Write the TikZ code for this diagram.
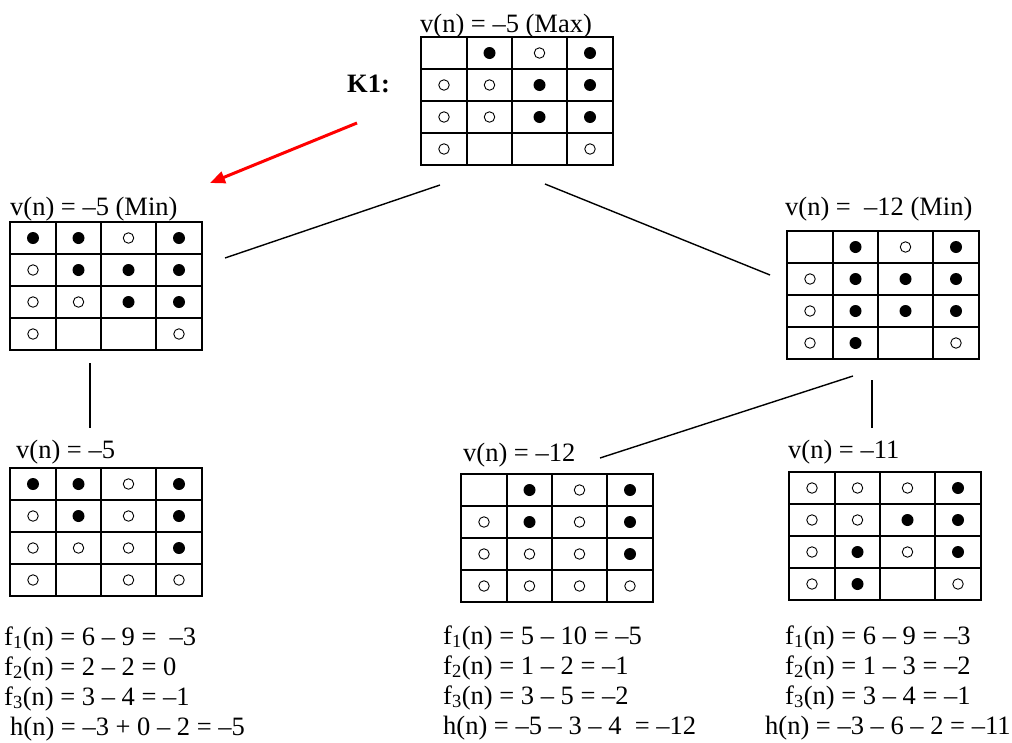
\documentclass[tikz,border=0pt]{standalone}
\usepackage{fontspec}
\setmainfont{Liberation Serif}
\usetikzlibrary{arrows.meta}
\tikzset{
 board/.style={draw, line width=2pt, minimum width=192pt, minimum height=128pt, inner sep=0pt, outer sep=0pt},
 gridline/.style={line width=2pt},
 cb/.style={circle, fill=black, minimum size=12pt, inner sep=0pt},
 cw/.style={circle, draw=black, line width=0.9pt, minimum size=10.5pt, inner sep=0pt},
 ce/.style={inner sep=0pt, minimum size=0pt},
 lbl/.style={font=\fontsize{26.5}{30}\selectfont, inner sep=0pt, anchor=base west},
 treeedge/.style={line width=1.4pt},
 redarrow/.style={draw=red, line width=3pt, -{Triangle[length=15pt,width=12pt]}}
}
\newcommand\boardat[3]{%
 \begin{scope}[shift={(#2)}]
  \node[board, anchor=north west] (#1) at (0,0) {};
  \foreach \xx in {46,91,146} \draw[gridline] (\xx,0) -- (\xx,128);
  \foreach \yy in {32,64,96} \draw[gridline] (0,\yy) -- (192,\yy);
  \foreach \c [count=\i from 0] in {#3} {
    \pgfmathtruncatemacro\col{mod(\i,4)}
    \pgfmathtruncatemacro\row{int(\i/4)}
    \pgfmathsetmacro\cx{{23,68.5,118.5,169}[\col]}
    \pgfmathsetmacro\cy{16+32*\row}
    \node[c\c] (#1-\i) at (\cx,\cy) {};
  }
 \end{scope}}
\begin{document}
\begin{tikzpicture}[x=1pt,y=-1pt]
\useasboundingbox (0,0) rectangle (1012,742);
% boards
\boardat{top}{421,37}{e,b,w,b, w,w,b,b, w,w,b,b, w,e,e,w}
\boardat{lmid}{10,222}{b,b,w,b, w,b,b,b, w,w,b,b, w,e,e,w}
\boardat{rmid}{787,231}{e,b,w,b, w,b,b,b, w,b,b,b, w,b,e,w}
\boardat{bl}{10,468}{b,b,w,b, w,b,w,b, w,w,w,b, w,e,w,w}
\boardat{bm}{461,474}{e,b,w,b, w,b,w,b, w,w,w,b, w,w,w,w}
\boardat{br}{789,472}{w,w,w,b, w,w,b,b, w,b,w,b, w,b,e,w}
% titles
\node[lbl] (ttop) at (420,32) {v(n) = –5 (Max)};
\node[lbl] (tlmid) at (10,215) {v(n) = –5 (Min)};
\node[lbl] (trmid) at (785,215) {v(n) =\ \ –12 (Min)};
\node[lbl] (tbl) at (16,458) {v(n) = –5};
\node[lbl] (tbm) at (463,461) {v(n) = –12};
\node[lbl] (tbr) at (788,458) {v(n) = –11};
\node[lbl, font=\fontsize{26.5}{30}\selectfont\bfseries] (k1) at (347,92) {K1:};
% red arrow
\coordinate (k1tail) at (357,123);
\coordinate (k1head) at (210,183);
\draw[redarrow] (k1tail) -- (k1head);
% tree connectors
\coordinate (e1a) at (440,185); \coordinate (e1b) at (225,258);
\coordinate (e2a) at (545,184); \coordinate (e2b) at (770,275);
\coordinate (e3a) at (90,363);  \coordinate (e3b) at (90,428);
\coordinate (e4a) at (853,376); \coordinate (e4b) at (600,458);
\coordinate (e5a) at (872,380); \coordinate (e5b) at (872,428);
\draw[treeedge] (e1a) -- (e1b);
\draw[treeedge] (e2a) -- (e2b);
\draw[treeedge] (e3a) -- (e3b);
\draw[treeedge] (e4a) -- (e4b);
\draw[treeedge] (e5a) -- (e5b);
% formulas left
\node[lbl] (fl1) at (4,645) {f\textsubscript{1}(n) = 6 – 9 =\ \ –3};
\node[lbl] (fl2) at (4,675) {f\textsubscript{2}(n) = 2 – 2 = 0};
\node[lbl] (fl3) at (4,705) {f\textsubscript{3}(n) = 3 – 4 = –1};
\node[lbl] (fl4) at (10,735) {h(n) = –3 + 0 – 2 = –5};
% formulas middle
\node[lbl] (fm1) at (443,644) {f\textsubscript{1}(n) = 5 – 10 = –5};
\node[lbl] (fm2) at (443,674) {f\textsubscript{2}(n) = 1 – 2 = –1};
\node[lbl] (fm3) at (443,704) {f\textsubscript{3}(n) = 3 – 5 = –2};
\node[lbl] (fm4) at (443,734) {h(n) = –5 – 3 – 4\ \ = –12};
% formulas right
\node[lbl] (fr1) at (785,644) {f\textsubscript{1}(n) = 6 – 9 = –3};
\node[lbl] (fr2) at (785,674) {f\textsubscript{2}(n) = 1 – 3 = –2};
\node[lbl] (fr3) at (785,704) {f\textsubscript{3}(n) = 3 – 4 = –1};
\node[lbl] (fr4) at (765,734) {h(n) = –3 – 6 – 2 = –11};
\end{tikzpicture}
\end{document}
